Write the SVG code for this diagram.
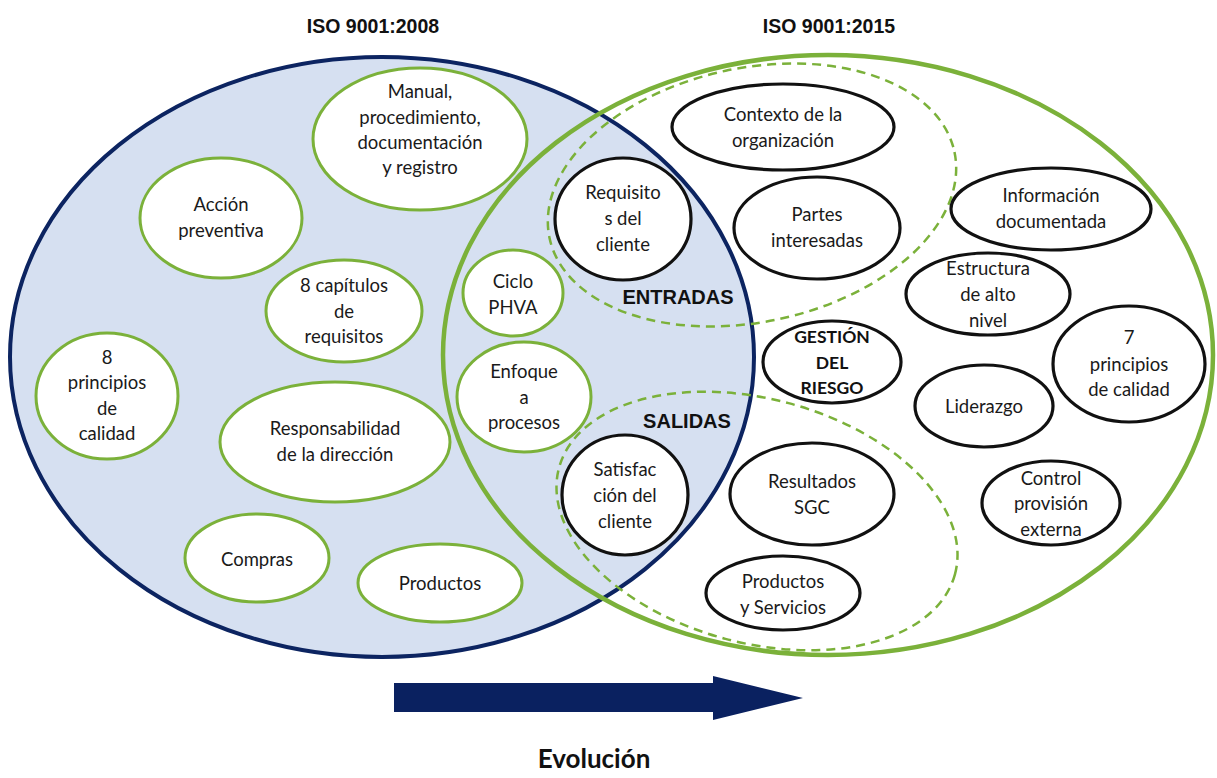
<svg xmlns="http://www.w3.org/2000/svg" width="1217" height="778" viewBox="0 0 1217 778">
<style>
.g{fill:#ffffff;stroke:#7bb13a;stroke-width:3}
.k{fill:#ffffff;stroke:#111111;stroke-width:3.2}
.t{font-family:Lato,"Liberation Sans",sans-serif;font-size:18.5px;fill:#1a1a1a;text-anchor:middle}
.b{font-family:"Liberation Sans",Arial,sans-serif;font-weight:bold;fill:#111;text-anchor:middle}
.kb{font-family:Lato,"Liberation Sans",sans-serif;font-weight:bold;font-size:17.5px;fill:#111;text-anchor:middle}
.d{fill:none;stroke:#7bb13a;stroke-width:2.5;stroke-dasharray:9 6}
</style>
<rect width="1217" height="778" fill="#ffffff"/>
<g id="sets">
<ellipse cx="382" cy="357" rx="372" ry="300" fill="#d6e0f1" stroke="#0c2461" stroke-width="4"/>
<ellipse cx="828" cy="355" rx="385" ry="300" fill="none" stroke="#7bb13a" stroke-width="4.5"/>
<ellipse cx="752" cy="195" rx="207" ry="127" transform="rotate(-12 752 195)" class="d"/>
<ellipse cx="757" cy="521" rx="205" ry="122" transform="rotate(15 757 521)" class="d"/>
</g>
<text class="b" x="373" y="33" font-size="19.5">ISO 9001:2008</text>
<text class="b" x="829" y="33" font-size="19.5">ISO 9001:2015</text>
<text class="b" x="678" y="304" font-size="20">ENTRADAS</text>
<text class="b" x="687" y="428" font-size="20">SALIDAS</text>

<g id="n-manual"><ellipse class="g" cx="420" cy="139" rx="107" ry="71"/>
<text class="t" x="420" y="98">Manual,</text><text class="t" x="420" y="124">procedimiento,</text><text class="t" x="420" y="149">documentación</text><text class="t" x="420" y="174">y registro</text></g>
<g id="n-accion"><ellipse class="g" cx="221" cy="218" rx="81" ry="60"/>
<text class="t" x="221" y="211">Acción</text><text class="t" x="221" y="237">preventiva</text></g>
<g id="n-capitulos"><ellipse class="g" cx="344" cy="311" rx="78" ry="51"/>
<text class="t" x="344" y="292">8 capítulos</text><text class="t" x="344" y="318">de</text><text class="t" x="344" y="343">requisitos</text></g>
<g id="n-8principios"><ellipse class="g" cx="107" cy="396" rx="71" ry="63"/>
<text class="t" x="107" y="364">8</text><text class="t" x="107" y="389">principios</text><text class="t" x="107" y="415">de</text><text class="t" x="107" y="440">calidad</text></g>
<g id="n-responsabilidad"><ellipse class="g" cx="335" cy="442" rx="115" ry="60"/>
<text class="t" x="335" y="435">Responsabilidad</text><text class="t" x="335" y="461">de la dirección</text></g>
<g id="n-compras"><ellipse class="g" cx="257" cy="558" rx="72" ry="44"/>
<text class="t" x="257" y="566">Compras</text></g>
<g id="n-productos"><ellipse class="g" cx="440" cy="583" rx="82" ry="39"/>
<text class="t" x="440" y="590">Productos</text></g>
<g id="n-phva"><ellipse class="g" cx="513" cy="293" rx="50" ry="43"/>
<text class="t" x="513" y="288">Ciclo</text><text class="t" x="513" y="314">PHVA</text></g>
<g id="n-enfoque"><ellipse class="g" cx="524" cy="397" rx="67" ry="55"/>
<text class="t" x="524" y="378">Enfoque</text><text class="t" x="524" y="404">a</text><text class="t" x="524" y="429">procesos</text></g>

<g id="n-requisitos"><ellipse class="k" cx="623" cy="219" rx="68" ry="61"/>
<text class="t" x="623" y="199">Requisito</text><text class="t" x="623" y="225">s del</text><text class="t" x="623" y="251">cliente</text></g>
<g id="n-contexto"><ellipse class="k" cx="783" cy="127" rx="111" ry="43"/>
<text class="t" x="783" y="121">Contexto de la</text><text class="t" x="783" y="147">organización</text></g>
<g id="n-partes"><ellipse class="k" cx="817" cy="228" rx="83" ry="51"/>
<text class="t" x="817" y="221">Partes</text><text class="t" x="817" y="247">interesadas</text></g>
<g id="n-riesgo"><ellipse class="k" cx="832" cy="362" rx="69" ry="41"/>
<text class="kb" x="832" y="343">GESTIÓN</text><text class="kb" x="832" y="369">DEL</text><text class="kb" x="832" y="394">RIESGO</text></g>
<g id="n-informacion"><ellipse class="k" cx="1051" cy="209" rx="100" ry="41"/>
<text class="t" x="1051" y="202">Información</text><text class="t" x="1051" y="228">documentada</text></g>
<g id="n-estructura"><ellipse class="k" cx="988" cy="294" rx="82" ry="41"/>
<text class="t" x="988" y="275">Estructura</text><text class="t" x="988" y="301">de alto</text><text class="t" x="988" y="327">nivel</text></g>
<g id="n-7principios"><ellipse class="k" cx="1129" cy="364" rx="76" ry="58"/>
<text class="t" x="1129" y="344">7</text><text class="t" x="1129" y="371">principios</text><text class="t" x="1129" y="396">de calidad</text></g>
<g id="n-liderazgo"><ellipse class="k" cx="984" cy="406" rx="69" ry="41"/>
<text class="t" x="984" y="413">Liderazgo</text></g>
<g id="n-control"><ellipse class="k" cx="1051" cy="503" rx="69" ry="42"/>
<text class="t" x="1051" y="485">Control</text><text class="t" x="1051" y="510">provisión</text><text class="t" x="1051" y="536">externa</text></g>
<g id="n-satisfaccion"><ellipse class="k" cx="625" cy="495" rx="63" ry="60"/>
<text class="t" x="625" y="476">Satisfac</text><text class="t" x="625" y="502">ción del</text><text class="t" x="625" y="528">cliente</text></g>
<g id="n-resultados"><ellipse class="k" cx="812" cy="494" rx="82" ry="51"/>
<text class="t" x="812" y="488">Resultados</text><text class="t" x="812" y="514">SGC</text></g>
<g id="n-prodserv"><ellipse class="k" cx="783" cy="593" rx="77" ry="37"/>
<text class="t" x="783" y="588">Productos</text><text class="t" x="783" y="614">y Servicios</text></g>

<g id="connectors">
<path d="M394 683 H713 V676 L803 698 L713 720 V712 H394 Z" fill="#0a2160"/>
</g>
<text x="594" y="768" font-family="Lato,'Liberation Sans',sans-serif" font-weight="bold" font-size="26" fill="#111" text-anchor="middle">Evolución</text>
</svg>
